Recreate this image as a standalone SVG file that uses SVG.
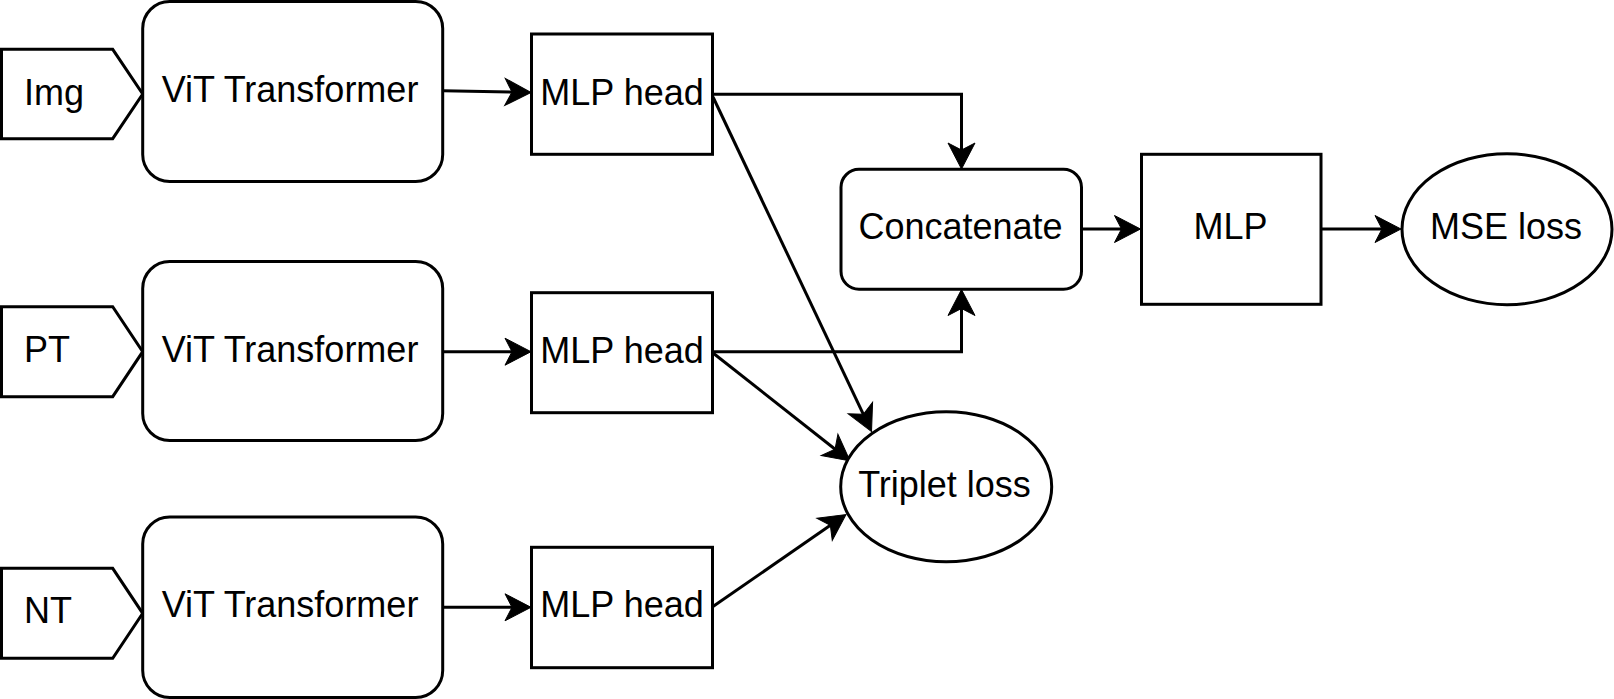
<svg xmlns="http://www.w3.org/2000/svg" width="1614" height="699" viewBox="0 0 1614 699">
<style>
.n{fill:#fff;stroke:#000;stroke-width:3}
.t{font-family:"Liberation Sans",Arial,sans-serif;font-size:36px;fill:#000}
.m{text-anchor:middle}
.e{fill:none;stroke:#000;stroke-width:3;marker-end:url(#ah)}
</style>
<defs>
<marker id="ah" markerUnits="userSpaceOnUse" markerWidth="30" markerHeight="30" refX="18" refY="0" orient="auto" overflow="visible">
<path d="M0,-13.5 L26,0 L0,13.5 L7,0 Z" fill="#000" stroke="#000" stroke-width="1"/>
</marker>
</defs>
<rect width="1614" height="699" fill="#fff"/>
<g id="connectors">
<path class="e" d="M443,90.7 L523,92.3"/>
<path class="e" d="M443,351.7 L523,351.7"/>
<path class="e" d="M443,607.3 L523,607.3"/>
<path class="e" d="M712.5,94.3 L961.5,94.3 L961.5,161"/>
<path class="e" d="M712.5,351.7 L961.5,351.7 L961.5,297.5"/>
<path class="e" d="M713,97 L868.1,424.3"/>
<path class="e" d="M713,353 L843.7,456"/>
<path class="e" d="M713,606.5 L839.4,519.1"/>
<path class="e" d="M1081.5,229 L1132.5,229"/>
<path class="e" d="M1321,229 L1393,229"/>
</g>
<g id="img"><polygon class="n" points="1.5,49.3 112.7,49.3 142.7,94 112.7,138.7 1.5,138.7"/><text class="t" x="24" y="105">Img</text></g>
<g id="vit1"><rect class="n" x="142.7" y="1.5" width="300" height="180" rx="27"/><text class="t m" x="290" y="102">ViT Transformer</text></g>
<g id="mlphead1"><rect class="n" x="531.5" y="34" width="181" height="120.3"/><text class="t m" x="622" y="105.3">MLP head</text></g>
<g id="pt"><polygon class="n" points="1.5,306.7 112.7,306.7 142.7,351.7 112.7,396.7 1.5,396.7"/><text class="t" x="24" y="362.3">PT</text></g>
<g id="vit2"><rect class="n" x="142.7" y="261.5" width="300" height="179" rx="27"/><text class="t m" x="290" y="362.3">ViT Transformer</text></g>
<g id="mlphead2"><rect class="n" x="531.5" y="292.7" width="181" height="120"/><text class="t m" x="622" y="362.7">MLP head</text></g>
<g id="nt"><polygon class="n" points="1.5,568.3 112.7,568.3 142.7,613.3 112.7,658.3 1.5,658.3"/><text class="t" x="24" y="623.3">NT</text></g>
<g id="vit3"><rect class="n" x="142.7" y="517" width="300" height="180.5" rx="27"/><text class="t m" x="290" y="617.3">ViT Transformer</text></g>
<g id="mlphead3"><rect class="n" x="531.5" y="547.3" width="181" height="120.4"/><text class="t m" x="622" y="617.3">MLP head</text></g>
<g id="concatenate"><rect class="n" x="841" y="169.3" width="240.5" height="120" rx="18"/><text class="t m" x="960.5" y="238.7">Concatenate</text></g>
<g id="mlp"><rect class="n" x="1141.5" y="154.3" width="179.5" height="150"/><text class="t m" x="1230.5" y="238.7">MLP</text></g>
<g id="mseloss"><ellipse class="n" cx="1507" cy="229.2" rx="105" ry="75.5"/><text class="t m" x="1506" y="238.7">MSE loss</text></g>
<g id="tripletloss"><ellipse class="n" cx="946.2" cy="486.7" rx="105.5" ry="75"/><text class="t m" x="944.5" y="496.7">Triplet loss</text></g>
</svg>
